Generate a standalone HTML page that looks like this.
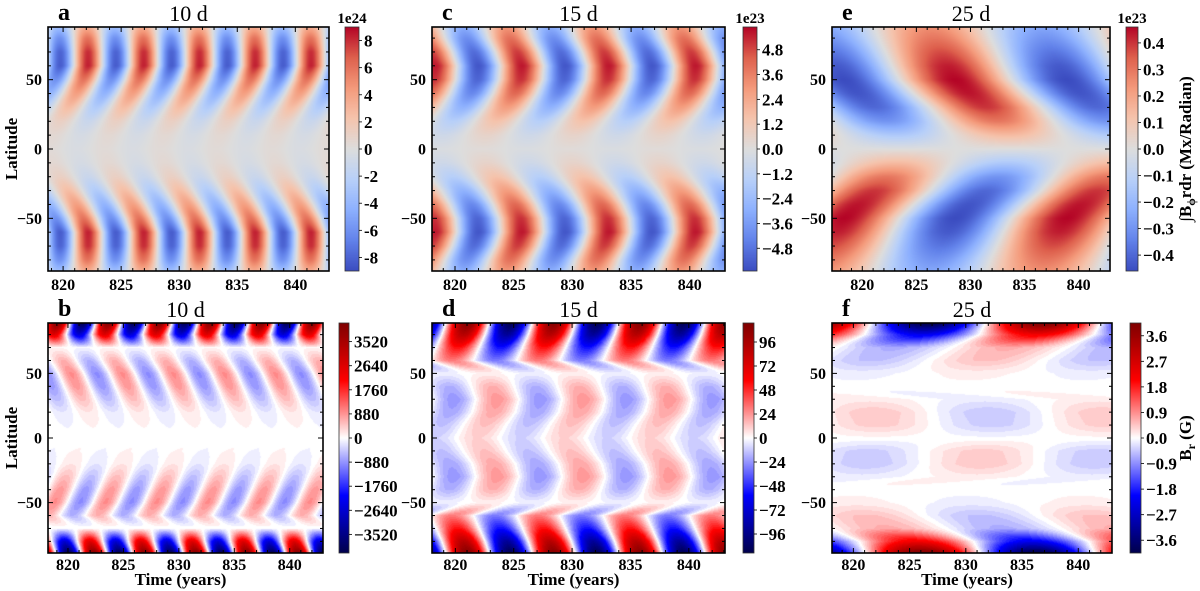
<!DOCTYPE html>
<html><head><meta charset="utf-8">
<style>
html,body{margin:0;padding:0;background:#fff;}
#fig{position:relative;width:1200px;height:591px;overflow:hidden;font-family:"Liberation Serif",serif;}
canvas{position:absolute;}
svg{position:absolute;left:0;top:0;}
</style></head>
<body>
<div id="fig">
<svg id="ov" width="1200" height="591"></svg>
</div>
<script>
// ---- shared latitude samples ----
const LAT=[-88,-80,-70,-60,-50,-40,-30,-20,-10,0,10,20,30,40,50,60,70,80,88];
// panel a (10 d, flux integral, 1e24)
const aAmp=[3.5,6.0,8.0,8.3,6.0,4.2,2.6,1.2,0.5,0.3,0.5,1.2,2.6,4.2,6.0,8.3,8.0,6.0,3.5];
const aShift=[-0.1,-0.05,0,0,-0.4,-1.0,-1.7,-2.4,-3.0,-3.4,-3.0,-2.4,-1.7,-1.0,-0.4,0,0,-0.05,-0.1];
const aPeriod=4.8, aT0=822.15;
const aTicks=[8,6,4,2,0,-2,-4,-6,-8];
// panel c (15 d, 1e23)
const cAmp=[3.0,4.0,5.0,5.6,5.2,4.2,2.8,1.5,0.6,0.15,0.6,1.5,2.8,4.2,5.2,5.6,5.0,4.0,3.0];
const cShift=[-1.3,-1.0,-0.4,0,-0.1,-0.6,-1.3,-2.2,-3.0,-3.4,-3.0,-2.2,-1.3,-0.6,-0.1,0,-0.4,-1.0,-1.3];
const cPeriod=7.4, cT0=825.7;
const cTicks=["4.8","3.6","2.4","1.2","0.0","−1.2","−2.4","−3.6","−4.8"];
// panel e (25 d, 1e23)
const eAmp=[-0.25,-0.3,-0.37,-0.43,-0.46,-0.44,-0.40,-0.30,-0.14,0,0.14,0.30,0.40,0.44,0.46,0.43,0.37,0.30,0.25];
const eShift=[-2.6,-2.2,-1.6,-1.0,-0.3,1.0,2.5,3.6,4.5,5,4.5,3.6,2.5,1.0,-0.3,-1.0,-1.6,-2.2,-2.6];
const ePeriod=20.6, eT0=828.9;
const eTicks=["0.4","0.3","0.2","0.1","0.0","−0.1","−0.2","−0.3","−0.4"];
// panel b (10 d, Br)
const bAmp=[-4000,-2600,-60,650,950,850,550,200,80,30,80,200,550,850,950,650,60,2600,4000];
const bShift=[1.0,0.7,0.5,-0.9,-0.2,0.3,0.8,1.3,1.7,3.5,3.2,2.8,2.3,1.8,1.3,0.6,0,-0.3,0];
const bPeriod=4.6, bT0=819.0;
const bTicks=["3520","2640","1760","880","0","−880","−1760","−2640","−3520"];
// panel d (15 d, Br)
const dAmp=[110,90,55,30,3,18,24,20,14,10,14,20,24,18,3,30,55,90,110];
const dShift=[0,-0.3,-0.8,-1.3,1.8,2.2,2.6,2.3,1.5,0.9,1.5,2.3,2.6,2.2,1.8,-1.3,-0.8,-0.3,0];
const dPeriod=7.4, dT0=821.0;
const dTicks=["96","72","48","24","0","−24","−48","−72","−96"];
// panel f (25 d, Br)
const fAmp=[-4.0,-2.2,-0.65,-0.5,-0.12,-0.02,-0.15,-0.45,-0.4,0.03,0.4,0.45,0.15,0.02,0.12,0.5,0.65,2.2,4.0];
const fShift=[-0.5,-1.0,-3.5,-5.5,-6.5,-7,4.3,4.8,4.8,5.7,5.7,5.5,5,-7,-6,-5,-3,-0.5,0];
const fPeriod=20.4, fT0=836.8;
const fTicks=["3.6","2.7","1.8","0.9","0.0","−0.9","−1.8","−2.7","−3.6"];

const xTicks=[820,825,830,835,840];
const yTicks=[50,0,-50];

const COOL=[[0,59,76,192],[0.125,98,130,234],[0.25,141,176,254],[0.375,184,208,249],[0.5,221,221,221],[0.625,245,196,173],[0.75,244,154,123],[0.875,222,96,77],[1,180,4,38]];
const SEIS=[[0,0,0,76],[0.25,0,0,255],[0.5,255,255,255],[0.75,255,0,0],[1,127,0,0]];
function cmap(st,u){u=Math.max(0,Math.min(1,u));for(let i=1;i<st.length;i++){if(u<=st[i][0]){const a=st[i-1],b=st[i],f=(u-a[0])/(b[0]-a[0]);return [a[1]+(b[1]-a[1])*f,a[2]+(b[2]-a[2])*f,a[3]+(b[3]-a[3])*f];}}const l=st[st.length-1];return [l[1],l[2],l[3]];}
function interp(arr,lat){if(lat<=LAT[0])return arr[0];for(let i=1;i<LAT.length;i++){if(lat<=LAT[i]){const f=(lat-LAT[i-1])/(LAT[i]-LAT[i-1]);return arr[i-1]+(arr[i]-arr[i-1])*f;}}return arr[arr.length-1];}

const P=[
 {id:'a',title:'10 d',amp:aAmp,sh:aShift,per:aPeriod,t0:aT0,ticks:aTicks,vmax:9,cm:COOL,x0:48,x1:329,y0:27,y1:271,d0:818.7,d1:842.9,L:88,cb:[345,359],exp:'1e24',lat:true,time:false,levels:0},
 {id:'c',title:'15 d',amp:cAmp,sh:cShift,per:cPeriod,t0:cT0,ticks:cTicks,vmax:5.9,cm:COOL,x0:432,x1:725,y0:27,y1:271,d0:818.04,d1:843.0,L:88,cb:[743,757],exp:'1e23',lat:false,time:false,levels:0},
 {id:'e',title:'25 d',amp:eAmp,sh:eShift,per:ePeriod,t0:eT0,ticks:eTicks,vmax:0.46,cm:COOL,x0:832,x1:1110,y0:27,y1:271,d0:817.2,d1:842.9,L:88,cb:[1126,1138],exp:'1e23',lat:false,time:false,levels:0},
 {id:'b',title:'10 d',amp:bAmp,sh:bShift,per:bPeriod,t0:bT0,ticks:bTicks,vmax:4200,cm:SEIS,x0:48,x1:323,y0:323,y1:553,d0:818.2,d1:843.0,L:89,cb:[339,349],exp:'',lat:true,time:true,levels:60},
 {id:'d',title:'15 d',amp:dAmp,sh:dShift,per:dPeriod,t0:dT0,ticks:dTicks,vmax:115,cm:SEIS,x0:432,x1:725,y0:323,y1:553,d0:818.0,d1:843.1,L:89,cb:[743,754],exp:'',lat:false,time:true,levels:60},
 {id:'f',title:'25 d',amp:fAmp,sh:fShift,per:fPeriod,t0:fT0,ticks:fTicks,vmax:4.05,cm:SEIS,x0:832,x1:1112,y0:323,y1:553,d0:818.1,d1:843.0,L:89,cb:[1130,1141],exp:'',lat:false,time:true,levels:60}
];
const fig=document.getElementById('fig');
const ov=document.getElementById('ov');
const NS='http://www.w3.org/2000/svg';
function sv(tag,attrs,txt){const e=document.createElementNS(NS,tag);for(const k in attrs)e.setAttribute(k,attrs[k]);if(txt!==undefined)e.textContent=txt;ov.appendChild(e);return e;}

P.forEach(p=>{
  const W=p.x1-p.x0,H=p.y1-p.y0;
  const xs=t=>p.x0+(t-p.d0)/(p.d1-p.d0)*W;
  const ys=l=>p.y0+(p.L-l)/(2*p.L)*H;
  const cv=document.createElement('canvas');
  cv.width=W;cv.height=H;cv.style.left=p.x0+'px';cv.style.top=p.y0+'px';
  
  
  fig.insertBefore(cv,ov);
  const ctx=cv.getContext('2d');const img=ctx.createImageData(W,H);
  for(let j=0;j<H;j++){
    const lat=p.L-(j+0.5)/H*2*p.L;
    const A=interp(p.amp,lat),S=interp(p.sh,lat);
    for(let i=0;i<W;i++){
      const t=p.d0+(i+0.5)/W*(p.d1-p.d0);
      let v=A*Math.cos(2*Math.PI*(t-p.t0-S)/p.per);
      let u=0.5+v/(2*p.vmax);
      if(p.levels){u=Math.round(u*p.levels)/p.levels;}
      const c=cmap(p.cm,u);const k=(j*W+i)*4;
      img.data[k]=c[0];img.data[k+1]=c[1];img.data[k+2]=c[2];img.data[k+3]=255;
    }
  }
  ctx.putImageData(img,0,0);
  const cbW=p.cb[1]-p.cb[0];
  const cc=document.createElement('canvas');
  cc.width=cbW;cc.height=H;cc.style.left=p.cb[0]+'px';cc.style.top=p.y0+'px';
  
  
  fig.insertBefore(cc,ov);
  const c2=cc.getContext('2d');
  for(let j=0;j<H;j++){const c=cmap(p.cm,1-(j+0.5)/H);c2.fillStyle='rgb('+c.map(Math.round).join(',')+')';c2.fillRect(0,j,cbW,1);}
  sv('rect',{x:p.cb[0],y:p.y0,width:cbW,height:H,fill:'none',stroke:'#333','stroke-width':0.8,});
  p.ticks.forEach(tk=>{
    const v=parseFloat(String(tk).replace('−','-'));
    const yy=p.y0+(0.5-v/(2*p.vmax))*H;
    sv('line',{x1:p.cb[1],x2:p.cb[1]+3,y1:yy,y2:yy,stroke:'#000','stroke-width':0.8});
    const tx=sv('text',{x:p.cb[1]+5,y:yy+6,'font-size':'17','font-weight':'bold','font-family':'Liberation Serif, serif'},tk);
    
    
  });
  if(p.exp){const e=sv('text',{x:(p.cb[0]+p.cb[1])/2,y:23,'font-size':'15','font-weight':'bold','text-anchor':'middle','font-family':'Liberation Serif, serif'},p.exp);}
  sv('rect',{x:p.x0,y:p.y0,width:W,height:H,fill:'none',stroke:'#000','stroke-width':1.6,});
  for(let t=Math.ceil(p.d0);t<=p.d1;t++){
    const x=xs(t);const L=(t%5===0)?5:3;
    sv('line',{x1:x,x2:x,y1:p.y1,y2:p.y1-L,stroke:'#000','stroke-width':1});
    sv('line',{x1:x,x2:x,y1:p.y0,y2:p.y0+L,stroke:'#000','stroke-width':1});
  }
  for(let l=-80;l<=80;l+=10){
    const y=ys(l);const L=(l%50===0)?5:3;
    sv('line',{x1:p.x0,x2:p.x0+L,y1:y,y2:y,stroke:'#000','stroke-width':1});
    sv('line',{x1:p.x1,x2:p.x1-L,y1:y,y2:y,stroke:'#000','stroke-width':1});
  }
  xTicks.forEach(t=>{
    const e=sv('text',{x:xs(t),y:p.y1+(p.time?17:19),'font-size':'16','font-weight':'bold','text-anchor':'middle','font-family':'Liberation Serif, serif'},String(t));
    
    
  });
  yTicks.forEach(l=>{
    const e=sv('text',{x:p.x0-6,y:ys(l)+5.5,'font-size':'16','font-weight':'bold','text-anchor':'end','font-family':'Liberation Serif, serif'},l<0?'−'+Math.abs(l):String(l));
    
    
  });
  const lt=sv('text',{x:p.x0+10,y:p.y0-7,'font-size':'24','font-weight':'bold','font-family':'Liberation Serif, serif'},p.id);
  
  
  const tt=sv('text',{x:(p.x0+p.x1)/2,y:p.y0-6,'font-size':'22','text-anchor':'middle','font-family':'Liberation Serif, serif'},p.title);
  
  
  if(p.lat){
    const cy=(p.y0+p.y1)/2;
    const e=sv('text',{x:0,y:0,transform:'translate(17,'+cy+') rotate(-90)','font-size':'17','font-weight':'bold','text-anchor':'middle','font-family':'Liberation Serif, serif'},'Latitude');
    
    
  }
  if(p.time){
    const e=sv('text',{x:(p.x0+p.x1)/2-5,y:585,'font-size':'17','font-weight':'bold','text-anchor':'middle','font-family':'Liberation Serif, serif'},'Time (years)');
    
    
  }
});
const t1=sv('text',{x:0,y:0,transform:'translate(1191,149) rotate(-90)','font-size':'17','font-weight':'bold','text-anchor':'middle','font-family':'Liberation Serif, serif'});
t1.innerHTML='∫B<tspan font-size="12" dy="4">ϕ</tspan><tspan dy="-4">rdr (Mx/Radian)</tspan>';


const t2=sv('text',{x:0,y:0,transform:'translate(1191,438) rotate(-90)','font-size':'17','font-weight':'bold','text-anchor':'middle','font-family':'Liberation Serif, serif'});
t2.innerHTML='B<tspan font-size="12" dy="4">r</tspan><tspan dy="-4"> (G)</tspan>';


</script>
</body></html>
